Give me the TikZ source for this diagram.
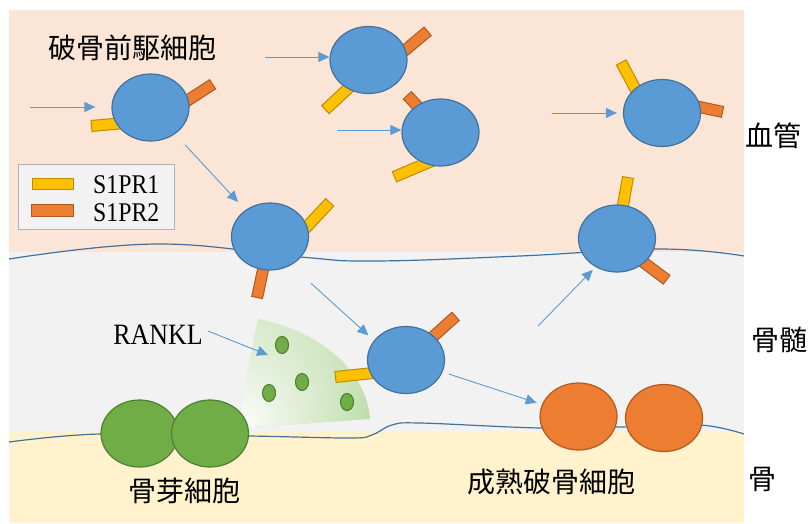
\documentclass[tikz,border=0pt]{standalone}
\usepackage{fontspec}
\setmainfont{Liberation Serif}[FakeStretch=0.88]
\newfontfamily\jp{Noto Sans CJK JP}
\usetikzlibrary{shapes.geometric,arrows.meta,fadings}

\definecolor{vessel}{HTML}{FBE5D6}
\definecolor{marrow}{HTML}{F2F2F2}
\definecolor{bone}{HTML}{FFF2CC}
\definecolor{cellblue}{HTML}{5B9BD5}
\definecolor{celledge}{HTML}{41719C}
\definecolor{rorange}{HTML}{ED7D31}
\definecolor{rorangeedge}{HTML}{AE5A21}
\definecolor{ryellow}{HTML}{FFC000}
\definecolor{ryellowedge}{HTML}{BC8C00}
\definecolor{obgreen}{HTML}{70AD47}
\definecolor{obedge}{HTML}{507E32}
\definecolor{fangreen}{HTML}{A9D18E}
\definecolor{wallblue}{HTML}{41719C}

\tikzfading[name=apexfade, inner color=transparent!0, outer color=transparent!100]

\begin{document}
\begin{tikzpicture}[x=1pt, y=-1pt,
    precursor/.style={ellipse, draw=celledge, fill=cellblue, line width=1.2pt,
        minimum width=77pt, minimum height=67pt, inner sep=0pt},
    osteoclast/.style={precursor, draw=rorangeedge, fill=rorange},
    osteoblast/.style={precursor, draw=obedge, fill=obgreen},
    ligand/.style={ellipse, draw=obedge, fill=obgreen, line width=1.1pt,
        minimum width=13pt, minimum height=17pt, inner sep=0pt},
    sone/.style={rectangle, draw=ryellowedge, fill=ryellow, line width=1pt,
        minimum height=11pt, inner sep=0pt, anchor=east},
    stwo/.style={sone, draw=rorangeedge, fill=rorange},
    flow/.style={draw=cellblue, line width=0.9pt, -{Triangle[length=11pt,width=10pt]}},
    membrane/.style={draw=wallblue, line width=1.2pt},
    jplabel/.style={font=\jp\fontsize{28}{30}\selectfont, inner sep=0pt, anchor=west},
    latin/.style={font=\fontsize{27}{30}\selectfont, inner sep=0pt}]

    \useasboundingbox (0,0) rectangle (810,523);

    % tissue layers
    \fill[vessel] (9,10) rectangle (744,252);
    \fill[marrow] (9,252) rectangle (744,432);
    \fill[bone] (9,432) rectangle (744,523);
    \draw[membrane] plot[smooth, tension=0.7] coordinates
        {(9,259) (156,244) (300,257) (374,261) (520,256) (660,249) (744,256)};
    \draw[membrane] plot[smooth, tension=0.6] coordinates
        {(9,442) (100,434) (250,436) (350,438) (372,435) (392,425) (420,423)
         (540,428) (620,427) (700,425) (744,434)};

    % RANKL field
    \begin{scope}
        \clip (237,428) -- (370,419) .. controls (366,365) and (311,329) .. (258,319) -- cycle;
        \shade[top color=fangreen!70, bottom color=fangreen] (230,315) rectangle (375,432);
        \fill[white, path fading=apexfade] (237,428) circle (175);
    \end{scope}
    \node[ligand] (l1) at (282,345) {};
    \node[ligand] (l2) at (302,382) {};
    \node[ligand] (l3) at (269,393) {};
    \node[ligand] (l4) at (347,402) {};

    % receptors
    \node[stwo, minimum width=45pt, rotate=33] (pa-s2) at (213,84) {};
    \node[sone, minimum width=42pt, rotate=185] (pa-s1) at (91,126) {};
    \node[stwo, minimum width=45pt, rotate=40] (pb-s2) at (428,31) {};
    \node[sone, minimum width=45pt, rotate=223] (pb-s1) at (325,110) {};
    \node[stwo, minimum width=30pt, rotate=133] (pc-s2) at (407,95) {};
    \node[sone, minimum width=44pt, rotate=203] (pc-s1) at (394,177) {};
    \node[sone, minimum width=45pt, rotate=118] (pd-s1) at (621,62) {};
    \node[stwo, minimum width=40pt, rotate=-12] (pd-s2) at (723,112) {};
    \node[sone, minimum width=48pt, rotate=47] (pe-s1) at (330,202) {};
    \node[stwo, minimum width=42pt, rotate=258] (pe-s2) at (257,298) {};
    \node[sone, minimum width=42pt, rotate=80] (pf-s1) at (628,177) {};
    \node[stwo, minimum width=45pt, rotate=-37] (pf-s2) at (667,280) {};
    \node[stwo, minimum width=46pt, rotate=42] (pg-s2) at (456,316) {};
    \node[sone, minimum width=52pt, rotate=186] (pg-s1) at (335,377) {};

    % cells
    \node[precursor] (pa) at (150.5,107.5) {};
    \node[precursor] (pb) at (368.5,60) {};
    \node[precursor] (pc) at (440.5,132.5) {};
    \node[precursor] (pd) at (662,113) {};
    \node[precursor] (pe) at (270,236.5) {};
    \node[precursor] (pf) at (617,238.5) {};
    \node[precursor] (pg) at (406,360) {};
    \node[osteoblast] (ob1) at (139.5,433.5) {};
    \node[osteoblast] (ob2) at (210,433.5) {};
    \node[osteoclast] (oc1) at (578.5,416.5) {};
    \node[osteoclast] (oc2) at (664,418) {};

    % migration
    \coordinate (inA) at (30,107);
    \coordinate (inB) at (265,57);
    \coordinate (inC) at (337,130);
    \coordinate (inD) at (552,113);
    \coordinate (up) at (538,326);
    \coordinate (rankl-in) at (268,355);
    \draw[flow, shorten >=16pt] (inA) -- (inA -| pa.west);
    \draw[flow] (inB) -- (inB -| pb.west);
    \draw[flow] (inC) -- (inC -| pc.west);
    \draw[flow, shorten >=6pt] (inD) -- (inD -| pd.west);
    \draw[flow, shorten <=51pt, shorten >=47pt] (pa.center) -- (pe.center);
    \draw[flow, shorten <=62pt, shorten >=44pt] ([shift={(-5,5)}]pe.center) -- ([shift={(-5,5)}]pg.center);
    \draw[flow, shorten <=45pt, shorten >=44pt] (pg.center) -- (oc1.center);
    \draw[flow, shorten >=4pt] (up) -- (pf.-127);

    % labels
    \node[jplabel] (precursor-label) at (48,48) {破骨前駆細胞};
    \node[jplabel] (vessel-label) at (745,136) {血管};
    \node[jplabel] (marrow-label) at (751,340) {骨髄};
    \node[jplabel] (bone-label) at (748,479) {骨};
    \node[jplabel] (ob-label) at (128,491) {骨芽細胞};
    \node[jplabel] (oc-label) at (467,482) {成熟破骨細胞};
    \node[latin, font=\fontsize{29.5}{32}\selectfont] (rankl) at (158,335) {RANKL};
    \draw[flow] ([shift={(5,-4)}]rankl.east) -- (rankl-in);

    % key
    \draw[draw=gray!60, fill=marrow, line width=0.8pt] (18,164) rectangle (174,229);
    \node[sone, anchor=center, minimum width=41pt] (key1) at (52.5,183.5) {};
    \node[stwo, anchor=center, minimum width=42pt, minimum height=12pt] (key2) at (52.5,210.5) {};
    \node[latin, anchor=west] (key1-text) at (93,185) {S1PR1};
    \node[latin, anchor=west] (key2-text) at (93,213) {S1PR2};
\end{tikzpicture}
\end{document}
